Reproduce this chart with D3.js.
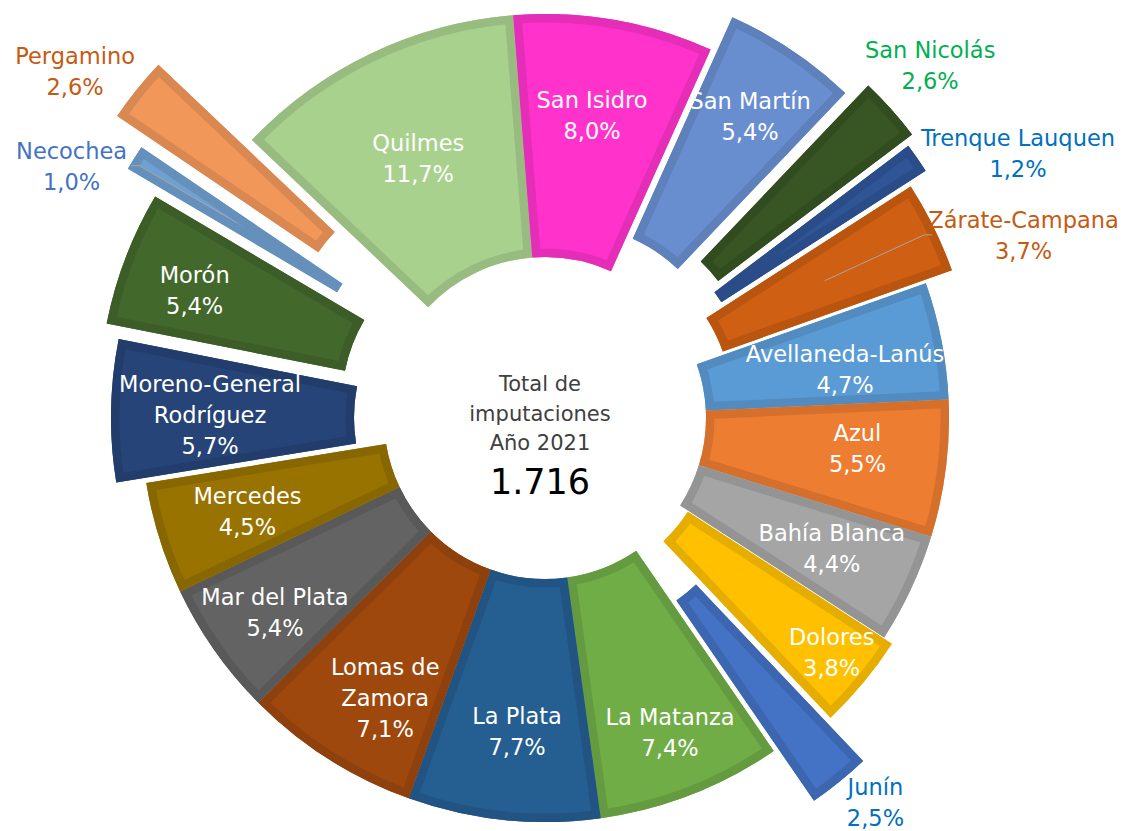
<!DOCTYPE html>
<html>
<head>
<meta charset="utf-8">
<script src="https://cdn.jsdelivr.net/npm/d3@7"></script>
<style>
  body { margin: 0; background: #fff; }
  svg { display: block; }
</style>
</head>
<body>
<svg id="chart" width="1136" height="831"></svg>
<script>
// --- data ---
const districts = [
  "Avellaneda-Lanús", "Azul", "Bahía Blanca", "Dolores", "Junín",
  "La Matanza", "La Plata", "Lomas de Zamora", "Mar del Plata", "Mercedes",
  "Moreno-General Rodríguez", "Morón", "Necochea", "Pergamino", "Quilmes",
  "San Isidro", "San Martín", "San Nicolás", "Trenque Lauquen", "Zárate-Campana"
];
const shares = [
  4.7, 5.5, 4.4, 3.8, 2.5,
  7.4, 7.7, 7.1, 5.4, 4.5,
  5.7, 5.4, 1.0, 2.6, 11.7,
  8.0, 5.4, 2.6, 1.2, 3.7
];
const totalImputaciones = 1716;
const centerTitle = ["Total de", "imputaciones", "Año 2021"];

// --- styling ---
const fills = [
  "#5b9bd5", "#ed7d31", "#a5a5a5", "#ffc000", "#4472c4",
  "#70ad47", "#255e91", "#9e480e", "#636363", "#997300",
  "#264478", "#43682b", "#70a0d0", "#f1975a", "#a9d18e",
  "#ff33cc", "#698ed0", "#375623", "#2f5597", "#cf5f12"
];
// how far each slice is pulled out of the ring (px)
const explode = [0, 0, 0, 10, 64, 0, 0, 0, 0, 0, 30, 45, 82, 120, 0, 0, 39, 60, 50, 29];
// label distance from centre and angular nudge (deg) from the slice middle
const labelRadius = [304, 314, 315, 370, 507, 338, 315, 322, 333, 312, 335, 373, 536, 584, 289, 306, 365, 522, 542, 512];
const labelNudge = [1.8, -1.6, -0.6, -0.5, -1.7, -0.5, -0.8, -2.7, -0.7, -0.15, -0.45, -0.8, -4.4, -2.4, -0.5, -1.0, 0.3, -0.7, 5.7, 5.3];
// labels drawn outside the ring get a coloured text, the rest are white
const outsideColor = {
  "Junín": "#0070c0", "Necochea": "#4472c4", "Pergamino": "#c55a11",
  "San Nicolás": "#00b050", "Trenque Lauquen": "#0070c0", "Zárate-Campana": "#c55a11"
};
const withLeader = ["Necochea", "Zárate-Campana"];
const labelBreaks = {
  "Moreno-General Rodríguez": ["Moreno-General", "Rodríguez"],
  "Lomas de Zamora": ["Lomas de", "Zamora"]
};

const cx = 545, cy = 418, rInner = 161, rOuter = 404;
const startDeg = 70.5;
const font = "DejaVu Sans";

const locale = d3.formatLocale({ decimal: ",", thousands: ".", grouping: [3], currency: ["$", ""] });
const fmtPct = locale.format(".1f");
const fmtTotal = locale.format(",d");

const rows = districts.map((name, i) => ({ name, share: shares[i], i }));

const pie = d3.pie()
  .sort(null)
  .value(d => d.share)
  .startAngle(startDeg * Math.PI / 180)
  .endAngle(startDeg * Math.PI / 180 + 2 * Math.PI);

const arc = d3.arc().innerRadius(rInner).outerRadius(rOuter);
const arcs = pie(rows);

const svg = d3.select("#chart");
const defs = svg.append("defs");
const g = svg.append("g").attr("transform", `translate(${cx},${cy})`);

const mid = d => (d.startAngle + d.endAngle) / 2;
const offset = d => {
  const e = explode[d.data.i], a = mid(d);
  return [e * Math.sin(a), -e * Math.cos(a)];
};

// clip paths so the border sits inside each slice
defs.selectAll("clipPath")
  .data(arcs)
  .join("clipPath")
  .attr("id", d => "clip" + d.data.i)
  .append("path")
  .attr("d", arc);

const slice = g.selectAll("g.slice")
  .data(arcs)
  .join("g")
  .attr("class", "slice")
  .attr("transform", d => `translate(${offset(d)})`);

slice.append("path")
  .attr("d", arc)
  .attr("fill", d => fills[d.data.i]);

slice.append("path")
  .attr("d", arc)
  .attr("fill", "none")
  .attr("stroke", d => d3.color(fills[d.data.i]).darker(0.3))
  .attr("stroke-width", 17)
  .attr("clip-path", d => `url(#clip${d.data.i})`);

// data labels
const labelPos = d => {
  const a = mid(d) + labelNudge[d.data.i] * Math.PI / 180;
  const r = labelRadius[d.data.i];
  return [r * Math.sin(a), -r * Math.cos(a)];
};

const labels = g.selectAll("g.label")
  .data(arcs)
  .join("g")
  .attr("class", "label")
  .attr("transform", d => `translate(${labelPos(d)})`);

labels.each(function (d) {
  const lines = (labelBreaks[d.data.name] || [d.data.name]).concat(fmtPct(d.data.share) + "%");
  const n = lines.length;
  d3.select(this).selectAll("text")
    .data(lines)
    .join("text")
    .attr("text-anchor", "middle")
    .attr("y", (t, k) => (k - (n - 1) / 2) * 31)
    .attr("dy", "0.36em")
    .attr("font-family", font)
    .attr("font-size", 22.5)
    .attr("fill", outsideColor[d.data.name] || "#ffffff")
    .text(t => t);
});

// leader lines from slice centroid to the outside label
labels.filter(d => withLeader.includes(d.data.name)).each(function (d) {
  const box = this.getBBox();
  const [lx, ly] = labelPos(d);
  const [ox, oy] = offset(d);
  const c = arc.centroid(d);
  const left = lx < 0;
  const x0 = left ? lx + box.x + box.width + 4 : lx + box.x + 4;
  const x1 = left ? x0 + 8 : x0 - 8;
  g.append("path")
    .attr("d", d3.line()([[x0, ly - 1], [x1, ly - 1], [c[0] + ox, c[1] + oy]]))
    .attr("fill", "none")
    .attr("stroke", "#a6a6a6")
    .attr("stroke-width", 1);
});

// centre text
const center = g.append("g").attr("transform", "translate(-5,0)");
center.selectAll("text.title")
  .data(centerTitle)
  .join("text")
  .attr("class", "title")
  .attr("text-anchor", "middle")
  .attr("y", (t, k) => -27 + k * 29.5)
  .attr("font-family", font)
  .attr("font-size", 21)
  .attr("fill", "#404040")
  .text(t => t);

center.append("text")
  .attr("text-anchor", "middle")
  .attr("y", 76)
  .attr("font-family", font)
  .attr("font-size", 35)
  .attr("fill", "#000")
  .text(fmtTotal(totalImputaciones));
</script>
</body>
</html>
